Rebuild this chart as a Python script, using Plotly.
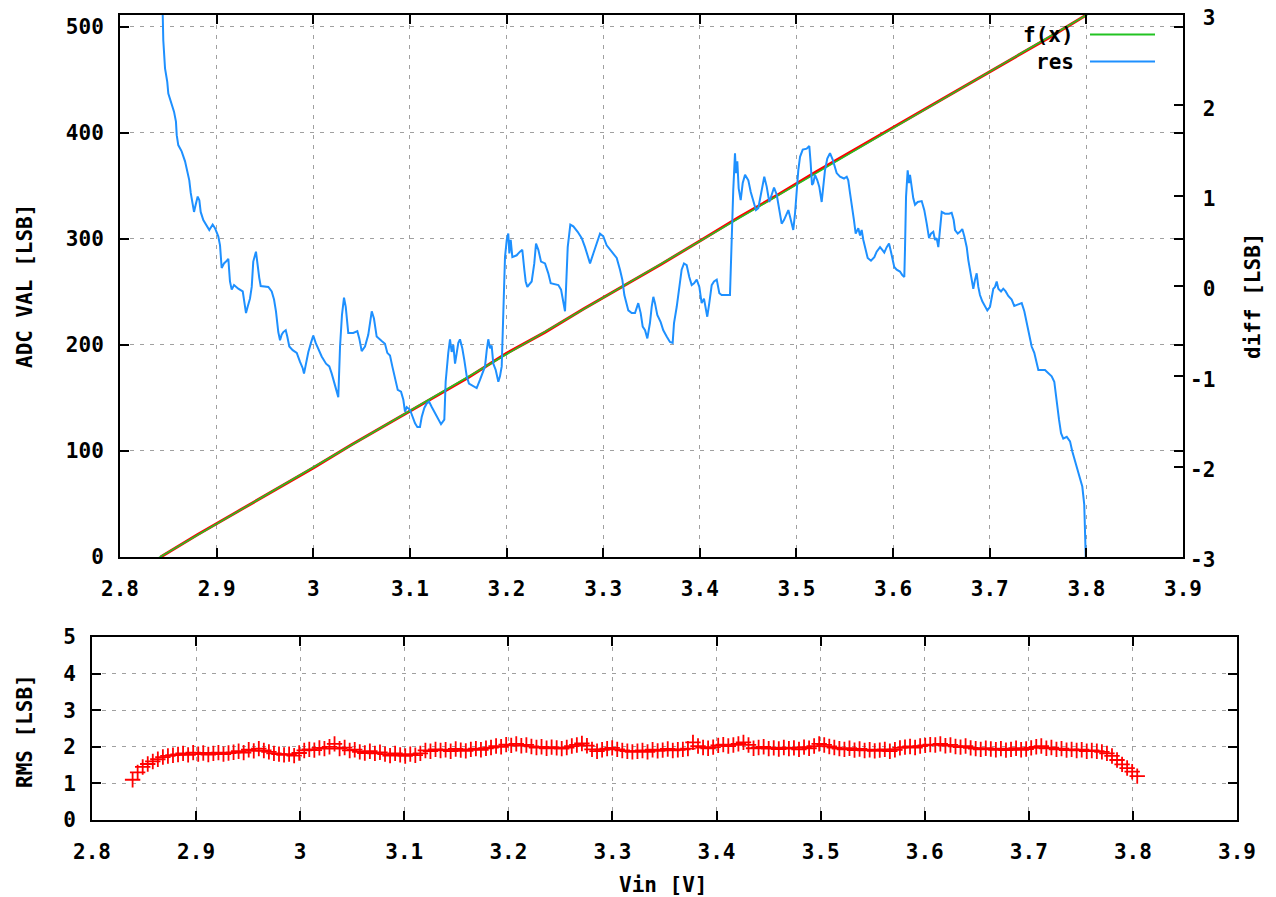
import plotly.graph_objects as go

# ---------------- data ----------------
X_TICKS = [2.8, 2.9, 3.0, 3.1, 3.2, 3.3, 3.4, 3.5, 3.6, 3.7, 3.8, 3.9]
X_TICK_TEXT = ["2.8", "2.9", "3", "3.1", "3.2", "3.3", "3.4", "3.5", "3.6", "3.7", "3.8", "3.9"]
ADC_TICKS = [0, 100, 200, 300, 400, 500]
DIFF_TICKS = [-3, -2, -1, 0, 1, 2, 3]
DIFF_TICK_TEXT = ["-3", "-2", "-1", "\u00a00", "\u00a01", "\u00a02", "\u00a03"]
RMS_TICKS = [0, 1, 2, 3, 4, 5]

# measured ADC value vs input voltage (red)
ADC_VIN = [2.842, 2.88, 2.92, 2.96, 3.00, 3.04, 3.08, 3.12, 3.16, 3.20, 3.24, 3.28, 3.32,
           3.36, 3.40, 3.44, 3.48, 3.52, 3.56, 3.60, 3.64, 3.68, 3.72, 3.76, 3.80]
ADC_VAL = [0, 21, 42, 63, 84, 106, 127, 148, 169, 192, 212, 234, 255,
           276, 298, 320, 341, 363, 384, 405, 426, 447, 468, 489, 511]

# linear fit f(x) = slope*x + offset
FIT_SLOPE = 533.0
FIT_OFFSET = -1514.47
FIT_X = [2.8, 3.9]

# residual (blue, right axis)
RES_VIN = [
    2.8432, 2.8448, 2.8466, 2.8489, 2.8500, 2.8535, 2.8559, 2.8579, 2.8587, 2.8603,
    2.8638, 2.8673, 2.8696, 2.8717, 2.8732, 2.8752, 2.8766, 2.8783, 2.8804, 2.8821,
    2.8835, 2.8862, 2.8897, 2.8924, 2.8959, 2.8983, 2.9017, 2.9035, 2.9052, 2.9076,
    2.9097, 2.9121, 2.9138, 2.9156, 2.9180, 2.9224, 2.9270, 2.9286, 2.9304, 2.9321,
    2.9345, 2.9363, 2.9379, 2.9407, 2.9421, 2.9441, 2.9456, 2.9535, 2.9570, 2.9594,
    2.9614, 2.9638, 2.9656, 2.9673, 2.9690, 2.9715, 2.9731, 2.9752, 2.9787, 2.9829,
    2.9863, 2.9891, 2.9904, 2.9925, 2.9949, 2.9976, 3.0000, 3.0025, 3.0052, 3.0087,
    3.0132, 3.0166, 3.0191, 3.0214, 3.0235, 3.0259, 3.0277, 3.0297, 3.0318, 3.0336,
    3.0362, 3.0414, 3.0456, 3.0476, 3.0501, 3.0535, 3.0569, 3.0587, 3.0605, 3.0628,
    3.0656, 3.0708, 3.0742, 3.0766, 3.0794, 3.0818, 3.0846, 3.0874, 3.0908, 3.0932,
    3.0949, 3.0967, 3.1001, 3.1025, 3.1053, 3.1077, 3.1104, 3.1122, 3.1149, 3.1174,
    3.1198, 3.1226, 3.1260, 3.1294, 3.1322, 3.1356, 3.1370, 3.1397, 3.1415, 3.1432,
    3.1449, 3.1467, 3.1484, 3.1501, 3.1518, 3.1542, 3.1563, 3.1588, 3.1611, 3.1656,
    3.1691, 3.1725, 3.1749, 3.1777, 3.1795, 3.1811, 3.1829, 3.1846, 3.1863, 3.1888,
    3.1915, 3.1932, 3.1950, 3.1966, 3.1984, 3.2002, 3.2018, 3.2029, 3.2043, 3.2060,
    3.2105, 3.2139, 3.2163, 3.2184, 3.2198, 3.2215, 3.2260, 3.2287, 3.2305, 3.2329,
    3.2357, 3.2398, 3.2432, 3.2457, 3.2501, 3.2536, 3.2564, 3.2587, 3.2605, 3.2615,
    3.2633, 3.2660, 3.2691, 3.2736, 3.2778, 3.2812, 3.2846, 3.2864, 3.2898, 3.2933,
    3.2967, 3.3001, 3.3036, 3.3088, 3.3140, 3.3174, 3.3198, 3.3219, 3.3260, 3.3295,
    3.3329, 3.3363, 3.3388, 3.3409, 3.3433, 3.3457, 3.3484, 3.3502, 3.3519, 3.3536,
    3.3560, 3.3595, 3.3622, 3.3657, 3.3691, 3.3719, 3.3733, 3.3761, 3.3788, 3.3812,
    3.3836, 3.3864, 3.3891, 3.3916, 3.3940, 3.3968, 3.3995, 3.4019, 3.4043, 3.4064,
    3.4077, 3.4098, 3.4123, 3.4147, 3.4175, 3.4202, 3.4226, 3.4312, 3.4323, 3.4336,
    3.4346, 3.4364, 3.4374, 3.4388, 3.4402, 3.4423, 3.4444, 3.4468, 3.4502, 3.4527,
    3.4553, 3.4581, 3.4605, 3.4630, 3.4651, 3.4667, 3.4692, 3.4719, 3.4744, 3.4768,
    3.4796, 3.4822, 3.4847, 3.4871, 3.4899, 3.4916, 3.4933, 3.4951, 3.4967, 3.4985,
    3.5002, 3.5019, 3.5037, 3.5065, 3.5106, 3.5133, 3.5147, 3.5161, 3.5174, 3.5192,
    3.5216, 3.5236, 3.5261, 3.5278, 3.5295, 3.5319, 3.5347, 3.5375, 3.5399, 3.5416,
    3.5451, 3.5492, 3.5520, 3.5536, 3.5554, 3.5578, 3.5595, 3.5613, 3.5640, 3.5658,
    3.5675, 3.5692, 3.5717, 3.5737, 3.5771, 3.5806, 3.5830, 3.5865, 3.5888, 3.5909,
    3.5934, 3.5958, 3.5978, 3.5992, 3.6012, 3.6037, 3.6071, 3.6095, 3.6116, 3.6123,
    3.6134, 3.6151, 3.6165, 3.6175, 3.6193, 3.6209, 3.6227, 3.6255, 3.6296, 3.6323,
    3.6348, 3.6372, 3.6392, 3.6416, 3.6434, 3.6451, 3.6468, 3.6485, 3.6503, 3.6537,
    3.6579, 3.6606, 3.6627, 3.6641, 3.6669, 3.6692, 3.6716, 3.6737, 3.6762, 3.6778,
    3.6796, 3.6813, 3.6830, 3.6848, 3.6865, 3.6882, 3.6899, 3.6923, 3.6951, 3.6975,
    3.7003, 3.7020, 3.7037, 3.7055, 3.7072, 3.7089, 3.7117, 3.7140, 3.7165, 3.7192,
    3.7227, 3.7254, 3.7296, 3.7331, 3.7358, 3.7383, 3.7406, 3.7434, 3.7461, 3.7486,
    3.7503, 3.7572, 3.7606, 3.7641, 3.7668, 3.7693, 3.7717, 3.7738, 3.7761, 3.7797,
    3.7831, 3.7854, 3.7882, 3.7910, 3.7934, 3.7958, 3.7978, 3.7993, 3.8007,
]
RES_LSB = [
    3.50, 2.72, 2.41, 2.26, 2.13, 2.02, 1.93, 1.82, 1.67, 1.56,
    1.49, 1.38, 1.28, 1.17, 1.03, 0.88, 0.82, 0.90, 0.99, 0.95,
    0.82, 0.73, 0.66, 0.62, 0.68, 0.64, 0.55, 0.45, 0.20, 0.25,
    0.27, 0.30, 0.05, -0.04, 0.01, -0.03, -0.06, -0.17, -0.30, -0.23,
    -0.14, -0.01, 0.27, 0.38, 0.23, 0.09, 0.00, -0.01, -0.06, -0.15,
    -0.28, -0.51, -0.60, -0.54, -0.51, -0.49, -0.56, -0.67, -0.71, -0.74,
    -0.84, -0.91, -0.97, -0.84, -0.73, -0.63, -0.55, -0.63, -0.69, -0.78,
    -0.86, -0.89, -0.97, -1.06, -1.13, -1.23, -0.67, -0.32, -0.13, -0.23,
    -0.52, -0.52, -0.50, -0.58, -0.72, -0.67, -0.54, -0.40, -0.28, -0.36,
    -0.56, -0.61, -0.64, -0.74, -0.77, -0.89, -1.04, -1.15, -1.17, -1.26,
    -1.39, -1.34, -1.37, -1.45, -1.52, -1.56, -1.56, -1.45, -1.35, -1.30,
    -1.28, -1.34, -1.41, -1.48, -1.53, -1.48, -1.06, -0.74, -0.59, -0.73,
    -0.65, -0.86, -0.75, -0.63, -0.59, -0.69, -0.82, -1.00, -1.08, -1.11,
    -1.13, -1.04, -0.97, -0.89, -0.71, -0.59, -0.69, -0.66, -0.86, -0.93,
    -1.06, -1.00, -0.89, -0.19, 0.32, 0.51, 0.58, 0.36, 0.51, 0.32,
    0.34, 0.38, 0.40, 0.18, 0.05, -0.01, 0.05, 0.25, 0.47, 0.40,
    0.27, 0.25, 0.14, 0.03, 0.02, 0.01, -0.04, -0.17, -0.28, -0.04,
    0.43, 0.68, 0.66, 0.60, 0.53, 0.43, 0.32, 0.25, 0.36, 0.47,
    0.58, 0.55, 0.45, 0.38, 0.31, 0.18, 0.07, -0.10, -0.27, -0.30,
    -0.30, -0.19, -0.30, -0.45, -0.49, -0.58, -0.41, -0.23, -0.12, -0.19,
    -0.32, -0.40, -0.49, -0.56, -0.62, -0.63, -0.41, -0.23, -0.04, 0.18,
    0.25, 0.23, 0.10, 0.01, 0.03, 0.07, -0.01, -0.19, -0.14, -0.28,
    -0.34, -0.19, 0.01, 0.05, 0.07, -0.08, -0.10, -0.10, 0.29, 0.69,
    1.06, 1.47, 1.25, 1.38, 1.08, 0.95, 1.14, 1.23, 1.17, 1.04,
    0.93, 0.84, 0.86, 0.99, 1.14, 1.21, 1.10, 0.93, 1.01, 1.09,
    1.01, 0.82, 0.69, 0.73, 0.80, 0.84, 0.77, 0.68, 0.62, 0.80,
    1.10, 1.28, 1.43, 1.51, 1.52, 1.55, 1.36, 1.12, 1.14, 1.23,
    1.17, 1.10, 0.93, 1.12, 1.28, 1.41, 1.47, 1.40, 1.30, 1.25,
    1.21, 1.19, 1.21, 1.17, 1.03, 0.88, 0.73, 0.58, 0.64, 0.56,
    0.62, 0.51, 0.38, 0.31, 0.28, 0.32, 0.38, 0.43, 0.40, 0.37,
    0.43, 0.47, 0.38, 0.32, 0.21, 0.18, 0.16, 0.12, 0.10, 0.40,
    0.99, 1.28, 1.14, 1.23, 1.10, 0.97, 0.90, 0.93, 0.94, 0.84,
    0.69, 0.53, 0.58, 0.60, 0.51, 0.53, 0.43, 0.62, 0.82, 0.80,
    0.80, 0.81, 0.73, 0.62, 0.58, 0.60, 0.63, 0.55, 0.43, 0.29,
    0.18, 0.05, -0.03, 0.07, 0.14, -0.01, -0.10, -0.17, -0.23, -0.27,
    -0.23, -0.12, -0.03, -0.01, 0.05, -0.03, -0.06, -0.03, -0.06, -0.11,
    -0.15, -0.22, -0.20, -0.19, -0.28, -0.41, -0.52, -0.67, -0.74, -0.86,
    -0.93, -0.93, -0.97, -1.00, -1.06, -1.30, -1.48, -1.63, -1.69, -1.67,
    -1.72, -1.83, -1.94, -2.06, -2.15, -2.22, -2.42, -2.81, -3.50,
]

# RMS noise per input step (bottom panel)
RMS_VIN_START = 2.839
RMS_VIN_STEP = 0.00485
RMS_LSB = [
    1.10, 1.30, 1.45, 1.53, 1.60, 1.66, 1.72, 1.75, 1.77, 1.79,
    1.82, 1.78, 1.84, 1.80, 1.83, 1.79, 1.82, 1.84, 1.80, 1.83,
    1.85, 1.88, 1.84, 1.92, 1.89, 1.95, 1.90, 1.86, 1.82, 1.80,
    1.78, 1.80, 1.76, 1.83, 1.90, 1.93, 1.91, 1.97, 1.95, 2.00,
    2.08, 1.95, 1.98, 1.90, 1.92, 1.86, 1.83, 1.88, 1.82, 1.85,
    1.80, 1.76, 1.82, 1.78, 1.75, 1.80, 1.77, 1.82, 1.90, 1.88,
    1.93, 1.90, 1.92, 1.88, 1.94, 1.91, 1.89, 1.93, 1.95, 1.92,
    1.96, 1.98, 2.02, 2.00, 2.06, 2.04, 2.08, 2.03, 2.05, 2.01,
    1.98, 2.00, 1.96, 1.99, 1.97, 1.95, 1.98, 2.02, 2.05, 2.09,
    2.03, 1.93, 1.88, 1.92, 1.95, 1.97, 1.93, 1.90, 1.88, 1.86,
    1.88, 1.90, 1.86, 1.92, 1.89, 1.91, 1.94, 1.90, 1.92, 1.93,
    1.95, 2.12, 2.02, 1.98, 1.96, 1.99, 2.04, 2.06, 2.02, 2.05,
    2.08, 2.12, 2.05, 1.96, 1.98, 2.00, 1.95, 1.97, 1.94, 1.98,
    1.95, 1.97, 1.93, 1.99, 1.96, 2.02, 2.08, 2.05, 2.01, 1.98,
    1.95, 1.93, 1.96, 1.91, 1.94, 1.90, 1.92, 1.89, 1.91, 1.93,
    1.88, 1.92, 1.97, 1.99, 2.01, 1.98, 2.02, 2.04, 2.06, 2.05,
    2.08, 2.03, 2.05, 2.01, 1.99, 2.02, 1.97, 1.95, 1.93, 1.96,
    1.94, 1.92, 1.95, 1.91, 1.93, 1.96, 1.92, 1.94, 1.97, 2.00,
    2.02, 1.96, 1.98, 1.93, 1.95, 1.91, 1.93, 1.90, 1.92, 1.88,
    1.90, 1.88, 1.86, 1.82, 1.75, 1.64, 1.52, 1.42, 1.32, 1.20,
]
RMS_VIN = [round(RMS_VIN_START + i * RMS_VIN_STEP, 5) for i in range(len(RMS_LSB))]

# ---------------- styling ----------------
# the page body has an 8px default margin, so the figure starts at (8, 8)
OFF = 8
W, H = 1276 - OFF, 897 - OFF
FONT_FAMILY = "DejaVu Sans Mono"
FONT = dict(family=FONT_FAMILY, size=21, color="black", weight="bold")
RED = "#ff0000"
GREEN = "#22c322"
BLUE = "#1e90ff"
GRID = "#a0a0a0"


def px_x(p):
    return (p - OFF) / W


def px_y(p):
    return 1 - (p - OFF) / H


fit_y = [FIT_SLOPE * x + FIT_OFFSET for x in FIT_X]

fig = go.Figure()
fig.add_trace(go.Scatter(x=ADC_VIN, y=ADC_VAL, mode="lines", name="data",
                         line=dict(color=RED, width=3), xaxis="x", yaxis="y",
                         showlegend=False))
fig.add_trace(go.Scatter(x=FIT_X, y=fit_y, mode="lines", name="f(x)",
                         line=dict(color=GREEN, width=1.6), xaxis="x", yaxis="y",
                         showlegend=False))
fig.add_trace(go.Scatter(x=RES_VIN, y=RES_LSB, mode="lines", name="res",
                         line=dict(color=BLUE, width=2), xaxis="x", yaxis="y2",
                         showlegend=False))
fig.add_trace(go.Scatter(x=RMS_VIN, y=RMS_LSB, mode="markers", name="RMS",
                         marker=dict(symbol="cross-thin", size=11, color=RED,
                                     line=dict(color=RED, width=1.8)),
                         xaxis="x2", yaxis="y3", showlegend=False))

axis_common = dict(
    showline=True, linecolor="black", linewidth=2,
    ticks="inside", ticklen=9, tickwidth=2, tickcolor="black",
    mirror="ticks", showgrid=True, gridcolor=GRID, griddash="4px,6px",
    gridwidth=1, zeroline=False, tickfont=FONT, fixedrange=True,
    automargin=False, ticklabeloverflow="allow",
)

fig.update_layout(
    template="none",
    width=W, height=H, autosize=False,
    margin=dict(l=0, r=0, t=0, b=0, pad=0),
    paper_bgcolor="white", plot_bgcolor="white",
    showlegend=False,
    xaxis=dict(domain=[px_x(120), px_x(1183)], range=[2.8, 3.9], anchor="y",
               tickvals=X_TICKS, ticktext=X_TICK_TEXT, ticklabelstandoff=12,
               **axis_common),
    yaxis=dict(domain=[px_y(557), px_y(15)], range=[0, 511], anchor="x",
               tickvals=ADC_TICKS, ticklabelstandoff=10, **axis_common),
    yaxis2=dict(overlaying="y", side="right", anchor="x", range=[-3, 3],
                tickvals=DIFF_TICKS, ticktext=DIFF_TICK_TEXT,
                showline=False, showgrid=False, zeroline=False,
                ticks="inside", ticklen=9, tickwidth=2, tickcolor="black",
                tickfont=FONT, ticklabelstandoff=6, ticklabelshift=3,
                fixedrange=True, automargin=False, ticklabeloverflow="allow"),
    xaxis2=dict(domain=[px_x(92), px_x(1237)], range=[2.8, 3.9], anchor="y3",
                tickvals=X_TICKS, ticktext=X_TICK_TEXT, ticklabelstandoff=12,
                **axis_common),
    yaxis3=dict(domain=[px_y(820), px_y(637)], range=[0, 5], anchor="x2",
                tickvals=RMS_TICKS, ticklabelstandoff=10, **axis_common),
)

TITLE_FONT = dict(family=FONT_FAMILY, size=21, color="black", weight="bold")
annotations = [
    dict(text="ADC VAL [LSB]", x=px_x(25), y=px_y(286), textangle=-90),
    dict(text="diff [LSB]", x=px_x(1253), y=px_y(296), textangle=-90),
    dict(text="RMS [LSB]", x=px_x(25), y=px_y(731), textangle=-90),
    dict(text="Vin [V]", x=px_x(663), y=px_y(885), textangle=0),
    dict(text="f(x)", x=px_x(1076), y=px_y(35), textangle=0, xanchor="right"),
    dict(text="res", x=px_x(1076), y=px_y(62), textangle=0, xanchor="right"),
]
for a in annotations:
    a.setdefault("xanchor", "center")
    fig.add_annotation(xref="paper", yref="paper", showarrow=False,
                       yanchor="middle", font=TITLE_FONT, **a)

# legend line samples
for yy, col in [(34.5, GREEN), (61.5, BLUE)]:
    fig.add_shape(type="line", xref="paper", yref="paper",
                  x0=px_x(1090), x1=px_x(1155), y0=px_y(yy), y1=px_y(yy),
                  line=dict(color=col, width=2))

fig.write_html("out.html")
